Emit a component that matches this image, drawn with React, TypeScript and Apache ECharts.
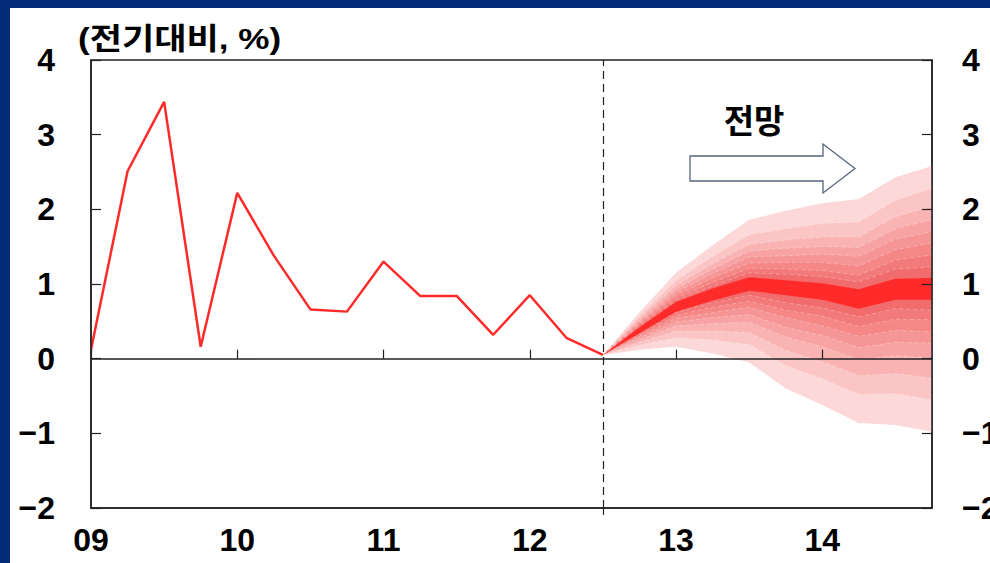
import React, { useEffect, useRef } from 'react';
import * as echarts from 'echarts';

// ---- data ----
const years = ['09', '10', '11', '12', '13', '14'];
const quarters = ['Q1', 'Q2', 'Q3', 'Q4'];
const categories = years.flatMap((y) => quarters.map((q) => y + q));

// historical quarter-on-quarter growth (%), 09Q1 .. 12Q3
const history = [0.12, 2.51, 3.44, 0.16, 2.22, 1.38, 0.66, 0.63, 1.30, 0.84, 0.84, 0.32, 0.85, 0.28, 0.05];

// fan chart (12Q3 .. 14Q4), levels from outer to inner, last = central band
const fanUpper = [
  [0.05, 0.62, 1.15, 1.52, 1.86, 1.98, 2.08, 2.14, 2.43, 2.58],
  [0.05, 0.57, 1.05, 1.37, 1.66, 1.74, 1.81, 1.83, 2.12, 2.28],
  [0.05, 0.54, 0.98, 1.27, 1.53, 1.59, 1.63, 1.63, 1.90, 2.04],
  [0.05, 0.51, 0.93, 1.20, 1.44, 1.48, 1.50, 1.49, 1.74, 1.86],
  [0.05, 0.49, 0.89, 1.14, 1.36, 1.38, 1.40, 1.37, 1.60, 1.70],
  [0.05, 0.47, 0.85, 1.08, 1.28, 1.29, 1.29, 1.24, 1.46, 1.55],
  [0.05, 0.45, 0.81, 1.02, 1.21, 1.20, 1.18, 1.12, 1.32, 1.39],
  [0.05, 0.43, 0.78, 0.97, 1.15, 1.13, 1.10, 1.03, 1.20, 1.23],
  [0.05, 0.42, 0.76, 0.94, 1.09, 1.05, 1.01, 0.93, 1.07, 1.08],
];
const fanLower = [
  [0.05, 0.12, 0.16, 0.07, -0.05, -0.40, -0.62, -0.86, -0.89, -0.98],
  [0.05, 0.18, 0.28, 0.25, 0.19, -0.09, -0.27, -0.48, -0.47, -0.55],
  [0.05, 0.22, 0.37, 0.37, 0.35, 0.11, -0.04, -0.23, -0.20, -0.26],
  [0.05, 0.25, 0.44, 0.47, 0.49, 0.29, 0.16, -0.01, 0.04, 0.01],
  [0.05, 0.28, 0.49, 0.55, 0.59, 0.42, 0.31, 0.15, 0.22, 0.21],
  [0.05, 0.30, 0.54, 0.62, 0.69, 0.55, 0.44, 0.30, 0.38, 0.36],
  [0.05, 0.32, 0.58, 0.69, 0.77, 0.65, 0.57, 0.43, 0.53, 0.52],
  [0.05, 0.34, 0.62, 0.75, 0.85, 0.75, 0.68, 0.56, 0.67, 0.65],
  [0.05, 0.34, 0.63, 0.78, 0.91, 0.85, 0.79, 0.67, 0.79, 0.79],
];
const fanColors = ['#fcd8d8', '#fbc5c5', '#f9b3b3', '#f8a3a3', '#f69595', '#f58787', '#f37a7a', '#f16d6d', '#ff2a2a'];

const yTicks = { min: -2, max: 4, interval: 1 };
const titleText = '(전기대비, %)';
const forecastText = '전망';

const fontFamily = '"Liberation Sans", Arial, "Noto Sans CJK KR", sans-serif';

export default function App() {
  const ref = useRef<HTMLDivElement>(null);

  useEffect(() => {
    if (!ref.current) return;
    const chart = echarts.init(ref.current, null, { renderer: 'svg' });
    const fanStart = history.length - 1;
    const labelStyle = { fontSize: 32, fontWeight: 'bold' as const, color: '#000', fontFamily };
    const yFmt = (v: number) => (v < 0 ? '\u2212' + Math.abs(v) : String(v));
    const lineColor = '#222';

    chart.setOption({
      animation: false,
      textStyle: { fontFamily },
      grid: {
        left: 81, top: 52, right: 58, bottom: 55,
        outerBoundsMode: 'none', containLabel: false,
        show: true, borderColor: lineColor, borderWidth: 1.5, backgroundColor: 'transparent',
      },
      xAxis: [
        {
          type: 'category', data: categories, boundaryGap: false, position: 'bottom',
          axisLine: { show: true, onZero: false, lineStyle: { color: lineColor, width: 1.5 } },
          axisTick: {
            show: true, inside: false, length: 7,
            interval: (index: number) => index === fanStart,
            lineStyle: { color: lineColor, width: 1.2 },
          },
          axisLabel: { ...labelStyle, interval: 3, margin: 16, formatter: (v: string) => v.slice(0, 2) },
          splitLine: { show: false },
        },
        {
          type: 'category', data: categories, boundaryGap: false, position: 'bottom', z: 5,
          axisLine: { show: true, onZero: true, onZeroAxisIndex: 0, lineStyle: { color: lineColor, width: 1.5 } },
          axisTick: { show: true, inside: true, interval: 3, length: 9, lineStyle: { color: lineColor, width: 1.2 } },
          axisLabel: { show: false },
          splitLine: { show: false },
        },
      ],
      yAxis: [
        {
          type: 'value', ...yTicks, position: 'left', z: 5,
          axisLine: { show: true, lineStyle: { color: lineColor, width: 1.5 } },
          axisTick: { show: true, inside: true, length: 10, lineStyle: { color: lineColor, width: 1.2 } },
          axisLabel: { ...labelStyle, margin: 36, formatter: yFmt },
          splitLine: { show: false },
        },
        {
          type: 'value', ...yTicks, position: 'right', z: 5,
          axisLine: { show: true, lineStyle: { color: lineColor, width: 1.5 } },
          axisTick: { show: true, inside: true, length: 10, lineStyle: { color: lineColor, width: 1.2 } },
          axisLabel: { ...labelStyle, margin: 30, formatter: yFmt },
          splitLine: { show: false },
        },
      ],
      series: [
        {
          type: 'custom',
          silent: true,
          xAxisIndex: 0,
          yAxisIndex: 0,
          z: 2,
          data: fanUpper.map((_, k) => [fanStart, k]),
          renderItem: (params: any, api: any) => {
            const k = params.dataIndex;
            const up = fanUpper[k];
            const lo = fanLower[k];
            const pts: number[][] = [];
            for (let i = 0; i < up.length; i++) pts.push(api.coord([fanStart + i, up[i]]));
            for (let i = lo.length - 1; i >= 0; i--) pts.push(api.coord([fanStart + i, lo[i]]));
            return {
              type: 'polygon',
              shape: { points: pts },
              style: {
                fill: fanColors[k],
                stroke: k > 0 && k < fanColors.length - 1 ? 'rgba(255,255,255,0.35)' : 'none',
                lineWidth: 0.8,
                lineDash: [4, 3],
              },
            };
          },
        },
        {
          type: 'line',
          data: history,
          xAxisIndex: 0,
          yAxisIndex: 0,
          z: 3,
          symbol: 'none',
          lineStyle: { color: '#ff2a2a', width: 2.5 },
          itemStyle: { color: '#ff2a2a' },
          markLine: {
            silent: true,
            symbol: ['none', 'none'],
            label: { show: false },
            lineStyle: { color: lineColor, type: [8, 5], width: 1.2 },
            data: [{ xAxis: categories[fanStart] }],
          },
        },
      ],
      graphic: [
        {
          type: 'text', x: 68, y: 30, z: 10, scaleX: 1.17,
          style: { text: titleText, font: `bold 30px ${fontFamily}`, fill: '#000', textVerticalAlign: 'middle', textAlign: 'left' },
        },
        {
          type: 'text', x: 744, y: 113, z: 10,
          style: { text: forecastText, font: `bold 33px ${fontFamily}`, fill: '#000', textVerticalAlign: 'middle', textAlign: 'center' },
        },
        {
          type: 'polygon', z: 10,
          shape: { points: [[680, 148], [813, 148], [813, 136], [845, 160.5], [813, 185], [813, 173], [680, 173]] },
          style: { fill: '#fff', stroke: '#56657a', lineWidth: 1.3 },
        },
      ],
    });
    return () => chart.dispose();
  }, []);

  return (
    <div style={{ position: 'fixed', left: 0, top: 0, width: 990, height: 563, background: '#022b7a', overflow: 'hidden' }}>
      <div ref={ref} style={{ position: 'absolute', left: 10, top: 8, width: 980, height: 555, background: '#fff' }} />
    </div>
  );
}
